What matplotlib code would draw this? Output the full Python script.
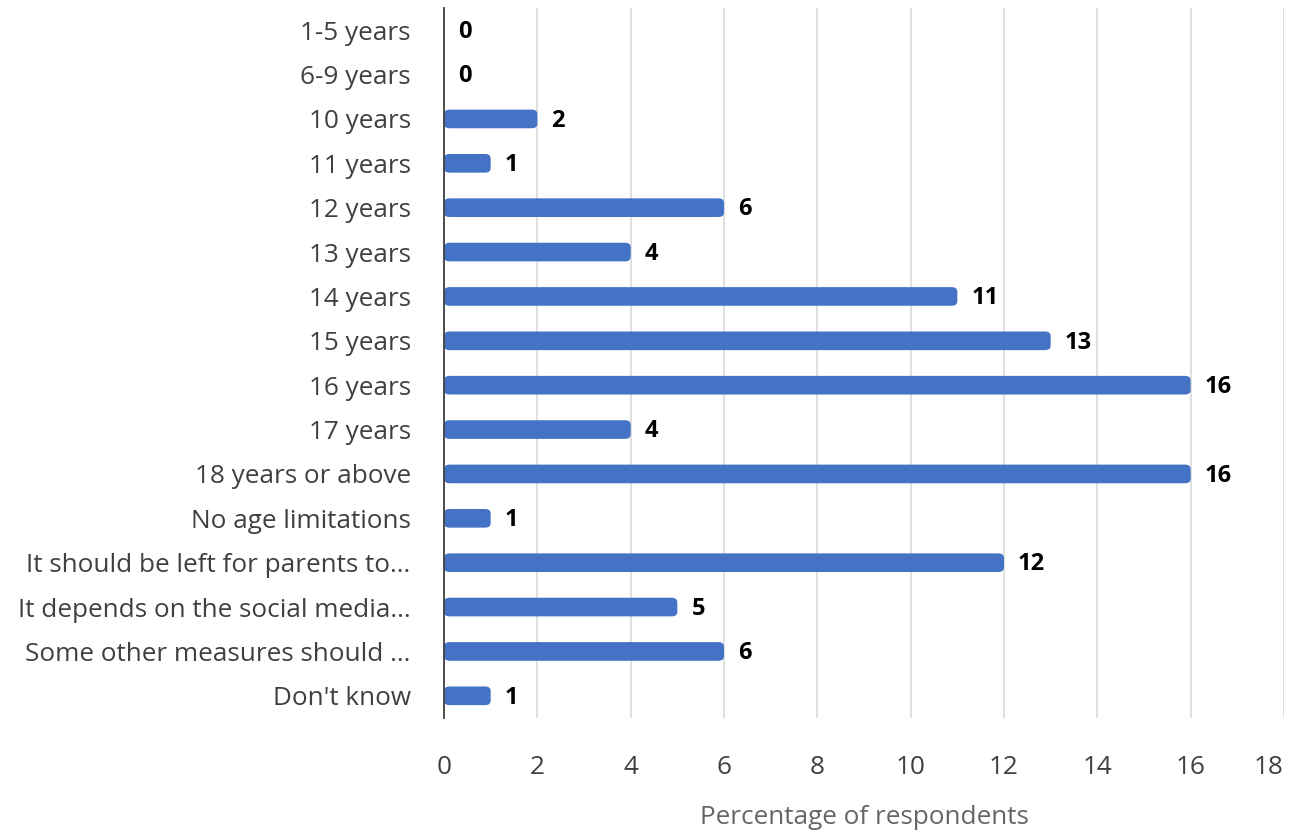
import matplotlib.pyplot as plt
from matplotlib.patches import FancyBboxPatch

plt.rcParams['font.family'] = ['Open Sans', 'DejaVu Sans']

categories = ['1-5 years', '6-9 years', '10 years', '11 years', '12 years',
              '13 years', '14 years', '15 years', '16 years', '17 years',
              '18 years or above', 'No age limitations',
              'It should be left for parents to...',
              'It depends on the social media...',
              'Some other measures should ...', "Don't know"]
values = [0, 0, 2, 1, 6, 4, 11, 13, 16, 4, 16, 1, 12, 5, 6, 1]
x_ticks = [0, 2, 4, 6, 8, 10, 12, 14, 16, 18]

bar_color = '#4472C4'
text_color = '#404040'

fig = plt.figure(figsize=(12.89, 8.35), dpi=100)
ax = fig.add_axes([444 / 1289, 1 - 718 / 835, 840 / 1289, 710 / 835])

y = list(range(len(categories)))
bars = ax.barh(y, values, height=0.42, color=bar_color, zorder=3)

# swap plain rectangles for ones with slightly rounded ends
for b in bars:
    w = b.get_width()
    b.set_visible(False)
    if w <= 0:
        continue
    patch = FancyBboxPatch((b.get_x(), b.get_y()), w, b.get_height(),
                           boxstyle='round,pad=0,rounding_size=0.12',
                           mutation_aspect=(710 / 16) / (840 / 18) * 0.9,
                           facecolor=bar_color, edgecolor='none', zorder=3)
    ax.add_patch(patch)

for yi, v in zip(y, values):
    ax.text(v + 0.3, yi + 0.04, str(v), va='center', ha='left', fontsize=17,
            fontweight='bold', color='black', zorder=4)

ax.set_xlim(0, 18)
ax.set_ylim(len(categories) - 0.5, -0.5)
ax.set_xticks(x_ticks)
ax.set_yticks(y)
ax.set_yticklabels(categories)
ax.tick_params(axis='y', length=0, pad=24, labelsize=18.8, labelcolor=text_color)
ax.tick_params(axis='x', length=0, pad=27, labelsize=18.8, labelcolor=text_color)
ax.get_xticklabels()[-1].set_horizontalalignment('right')

ax.grid(axis='x', color='#D9D9D9', linewidth=1.2, zorder=0)
ax.set_axisbelow(True)
for s in ['top', 'right', 'bottom']:
    ax.spines[s].set_visible(False)
ax.spines['left'].set_color('#404040')
ax.spines['left'].set_linewidth(1.3)
ax.spines['left'].set_zorder(5)

ax.set_xlabel('Percentage of respondents', fontsize=18.8, color='#666666', labelpad=18)

fig.savefig('out.png', dpi=100)
